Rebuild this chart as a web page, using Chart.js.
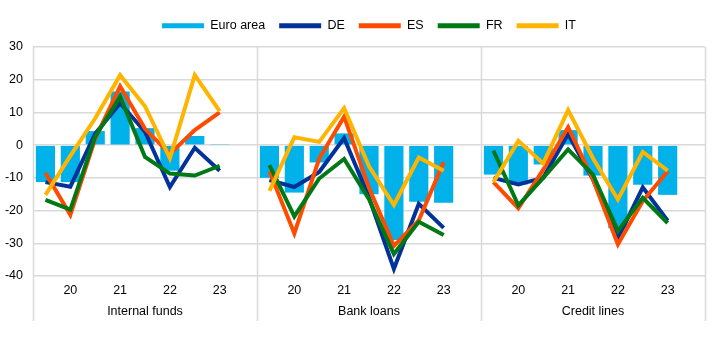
<!DOCTYPE html>
<html>
<head>
<meta charset="utf-8">
<script src="https://cdn.jsdelivr.net/npm/chart.js@4/dist/chart.umd.min.js"></script>
<style>
html,body{margin:0;padding:0;background:#fff;}
#wrap{width:724px;height:354px;}
</style>
</head>
<body>
<div id="wrap"><canvas id="c" width="724" height="354"></canvas></div>
<script>
// ---- data ----
const panels = ['Internal funds', 'Bank loans', 'Credit lines'];
const periodLabels = ['', '20', '', '21', '', '22', '', '23', ''];

const euroArea = {
  internal: [-11.3, -11.3, 4.3, 16.4, 5.2, -7.8, 2.8, 0.3],
  bank:     [-10.0, -14.5, -5.3, 3.6, -15.0, -29.0, -17.3, -17.6],
  credit:   [-9.0, -12.0, -5.9, 4.6, -9.3, -25.4, -12.1, -15.2]
};
const de = {
  internal: [-11.3, -12.7, 3.5, 12.8, 4.1, -12.8, -0.8, -7.8],
  bank:     [-10.7, -12.8, -8.2, 2.2, -16.0, -37.8, -17.9, -25.3],
  credit:   [-10.0, -12.0, -10.0, 3.4, -10.5, -28.5, -12.9, -23.1]
};
const es = {
  internal: [-8.5, -21.3, 2.0, 18.0, 5.0, -2.7, 4.6, 10.0],
  bank:     [-8.0, -27.0, -4.1, 8.7, -13.0, -30.8, -23.0, -5.2],
  credit:   [-11.3, -19.3, -7.5, 5.5, -10.5, -30.3, -17.1, -8.0]
};
const fr = {
  internal: [-16.7, -19.7, 2.6, 14.8, -3.6, -8.7, -9.3, -6.3],
  bank:     [-6.1, -21.8, -10.2, -4.2, -16.5, -33.3, -23.4, -27.5],
  credit:   [-1.7, -18.4, -10.0, -1.3, -9.0, -26.2, -16.1, -23.8]
};
const it = {
  internal: [-15.2, -3.3, 8.2, 21.4, 11.9, -4.0, 21.4, 10.4],
  bank:     [-14.0, 2.4, 1.0, 11.3, -6.5, -18.3, -3.8, -7.8],
  credit:   [-11.3, 1.3, -5.6, 10.7, -4.0, -16.6, -2.1, -7.8]
};

// ---- build ----
function flat(s) {
  return [].concat(s.internal, [null], s.bank, [null], s.credit, [null]);
}
const labels = [].concat(periodLabels, periodLabels, periodLabels);
const groupLabels = [];
panels.forEach(p => { for (let i = 0; i < 9; i++) groupLabels.push(i === 4 ? p : ''); });

const FONT = {family: "'Liberation Sans', Arial, sans-serif", size: 12.5};
const GRID = '#d9d9d9';

const lineDs = (label, s, color, order) => ({
  type: 'line', label, data: flat(s), borderColor: color, backgroundColor: color,
  borderWidth: 4, pointRadius: 0, pointHoverRadius: 0, spanGaps: false,
  tension: 0, order, xAxisID: 'x', yAxisID: 'y'
});

const separators = {
  id: 'separators',
  afterLayout(chart) {
    const lg = chart.legend;
    if (lg) { lg.left += 7; lg.right += 7; lg.top -= 5; lg.bottom -= 5; }
  },
  beforeDatasetsDraw(chart) {
    const x = chart.scales.x, x2 = chart.scales.x2, ctx = chart.ctx;
    ctx.save();
    ctx.strokeStyle = GRID;
    ctx.lineWidth = 1.5;
    for (let k = 0; k <= 3; k++) {
      const px = Math.round(x.left + k * x.width / 3) + 0.5;
      ctx.beginPath();
      ctx.moveTo(px, chart.chartArea.top);
      ctx.lineTo(px, x2.bottom + 3);
      ctx.stroke();
    }
    ctx.restore();
  }
};

new Chart(document.getElementById('c'), {
  type: 'bar',
  data: {
    labels,
    datasets: [
      {type: 'bar', label: 'Euro area', data: flat(euroArea), backgroundColor: '#00B1EA',
       borderWidth: 0, barPercentage: 0.77, categoryPercentage: 1, order: 10, xAxisID: 'x', yAxisID: 'y'},
      lineDs('DE', de, '#003299', 4),
      lineDs('ES', es, '#FF4B00', 3),
      lineDs('FR', fr, '#007816', 2),
      lineDs('IT', it, '#FFB400', 1)
    ]
  },
  options: {
    responsive: false,
    animation: false,
    devicePixelRatio: 1,
    layout: {padding: {left: 0, right: 0, top: 10.5, bottom: 36}},
    plugins: {
      legend: {
        position: 'top',
        labels: {
          font: FONT, color: '#000', boxWidth: 42, boxHeight: 5, padding: 14,
          generateLabels(chart) {
            return chart.data.datasets.map((d, i) => ({
              text: d.label, fillStyle: d.type === 'bar' ? d.backgroundColor : d.borderColor,
              strokeStyle: d.type === 'bar' ? d.backgroundColor : d.borderColor,
              lineWidth: 0, hidden: false, datasetIndex: i, fontColor: '#000'
            }));
          }
        }
      },
      tooltip: {enabled: false}
    },
    scales: {
      x: {
        type: 'category', position: 'bottom', offset: true,
        grid: {display: false, drawTicks: false},
        border: {display: false},
        ticks: {font: FONT, color: '#000', autoSkip: false, maxRotation: 0, padding: 7}
      },
      x2: {
        type: 'category', position: 'bottom', offset: true, labels: groupLabels,
        grid: {display: false, drawTicks: false},
        border: {display: false},
        ticks: {font: FONT, color: '#000', autoSkip: false, maxRotation: 0, padding: -1}
      },
      y: {
        min: -40, max: 30,
        ticks: {stepSize: 10, font: FONT, color: '#000', padding: 10},
        grid: {color: GRID, lineWidth: 1.5, drawTicks: false},
        border: {display: false},
        afterFit(s) { s.width = 33; }
      },
      yR: {
        position: 'right', min: -40, max: 30, display: true,
        ticks: {display: false}, grid: {display: false, drawTicks: false},
        border: {display: false},
        afterFit(s) { s.width = 19; }
      }
    }
  },
  plugins: [separators]
});
</script>
</body>
</html>
